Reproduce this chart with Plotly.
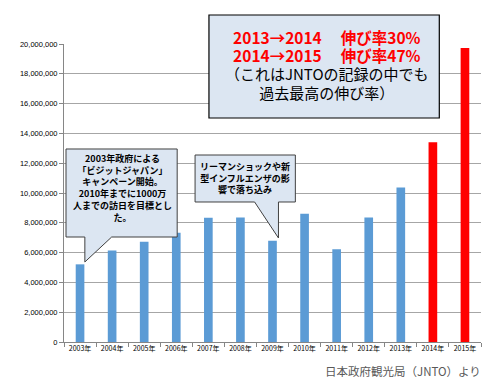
import plotly.graph_objects as go

years = ["2003年", "2004年", "2005年", "2006年", "2007年", "2008年", "2009年",
         "2010年", "2011年", "2012年", "2013年", "2014年", "2015年"]
visitors = [5212000, 6138000, 6728000, 7334000, 8347000, 8351000, 6790000,
            8611000, 6219000, 8358000, 10364000, 13413000, 19737000]
colors = ["#5b9bd5"] * 11 + ["#ff0000"] * 2
y_ticks = [0, 2000000, 4000000, 6000000, 8000000, 10000000, 12000000,
           14000000, 16000000, 18000000, 20000000]

# page body has an 8px default margin; compensate
OFF = 8
W, H = 500, 388
L, R, T, B = 61, 481, 44, 342

def px(x, y):
    return (x - L) / (R - L), (B - y) / (B - T)

def path(points):
    pts = [px(x, y) for x, y in points]
    return "M " + " L ".join(f"{a:.4f},{b:.4f}" for a, b in pts) + " Z"

fig = go.Figure()
fig.add_trace(go.Bar(x=years, y=visitors, marker=dict(color=colors, line=dict(width=0)),
                     width=0.27))

shapes = []
x0, y0 = px(207, 15)
x1, y1 = px(439, 118)
shapes.append(dict(type="rect", xref="paper", yref="paper", x0=x0, y0=y1, x1=x1, y1=y0,
                   fillcolor="#dce6f2", line=dict(color="#000000", width=1.2)))
shapes.append(dict(type="path", xref="paper", yref="paper",
                   path=path([(63, 149), (175, 149), (175, 237), (109, 237), (82, 262),
                              (82, 237), (63, 237)]),
                   fillcolor="#dce6f2", line=dict(color="#404040", width=1)))
shapes.append(dict(type="path", xref="paper", yref="paper",
                   path=path([(193, 155), (294, 155), (294, 202), (277, 202), (277, 238),
                              (253, 202), (193, 202)]),
                   fillcolor="#dce6f2", line=dict(color="#404040", width=1)))

font_jp = "Noto Sans CJK JP"
annotations = []

def add_text(x, y, text, size, color="#000000", xanchor="center"):
    ax, ay = px(x, y)
    annotations.append(dict(xref="paper", yref="paper", x=ax, y=ay, showarrow=False,
                            xanchor=xanchor, yanchor="middle", align="center",
                            text=text, font=dict(family=font_jp, size=size, color=color)))

add_text(326, 64,
         "<span style='color:#ff0000;font-size:15.5px'><b>2013→2014　 伸び率30%</b></span><br>"
         "<span style='color:#ff0000;font-size:15.5px'><b>2014→2015　 伸び率47%</b></span><br>"
         "<span style='font-size:15px'>（これはJNTOの記録の中でも</span><br>"
         "<span style='font-size:15px'>過去最高の伸び率）</span>", 14)

add_text(119.5, 188, "<b>2003年政府による<br>「ビジットジャパン」<br>キャンペーン開始。<br>"
                     "2010年までに1000万<br>人までの訪日を目標とし<br>た。</b>", 9)
add_text(243.5, 178, "<b>リーマンショックや新<br>型インフルエンザの影<br>響で落ち込み</b>", 9)
add_text(483, 371, "日本政府観光局（JNTO）より", 11.5, "#595959", xanchor="right")

fig.update_layout(
    width=W - OFF, height=H - OFF,
    margin=dict(l=L - OFF, r=W - R, t=T - OFF, b=H - B, pad=0),
    paper_bgcolor="white", plot_bgcolor="white",
    showlegend=False,
    shapes=shapes, annotations=annotations,
)
fig.update_xaxes(type="category", showgrid=False, showline=True, linecolor="#868686",
                 linewidth=1, ticks="outside", tickson="boundaries", ticklen=4,
                 tickcolor="#868686",
                 tickfont=dict(family=font_jp, size=7, color="#000000"))
fig.update_yaxes(range=[0, 20000000], tickvals=y_ticks, tickformat=",d",
                 showgrid=True, gridcolor="#a6a6a6", gridwidth=1,
                 showline=True, linecolor="#868686", linewidth=1,
                 ticks="outside", ticklen=4, tickcolor="#868686", zeroline=False,
                 tickfont=dict(family="Liberation Sans", size=7.5, color="#000000"))

fig.write_html("out.html")
